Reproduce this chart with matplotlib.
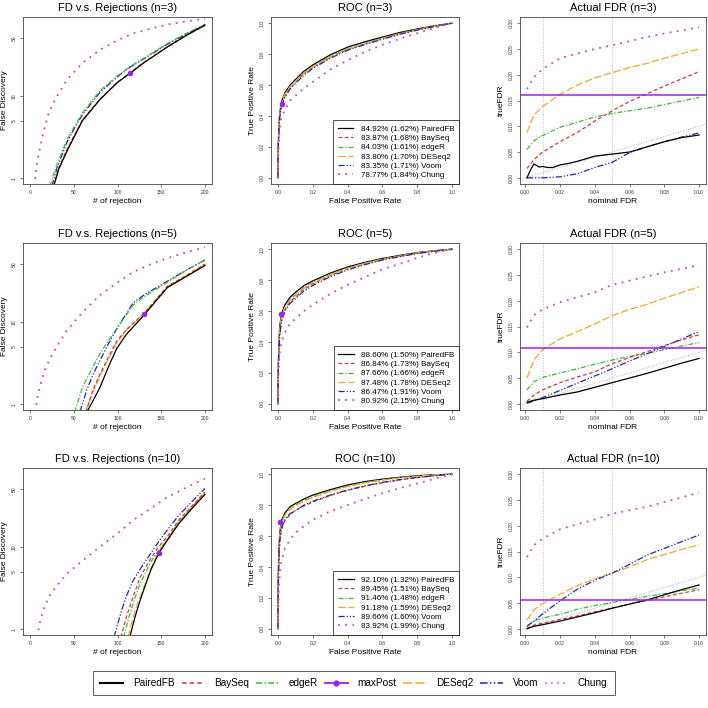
import numpy as np
import matplotlib
matplotlib.use("Agg")
import matplotlib.pyplot as plt
from matplotlib.lines import Line2D

plt.rcParams["font.family"] = ["Liberation Sans", "DejaVu Sans"]

methods = ["PairedFB", "BaySeq", "edgeR", "DESeq2", "Voom", "Chung"]
colors = {"PairedFB": "black", "BaySeq": "#D03A3A", "edgeR": "#3CB83C",
          "DESeq2": "#F0A830", "Voom": "#2626A6", "Chung": "#CC44CC",
          "maxPost": "#A020F0"}
styles = {"PairedFB": "-", "BaySeq": (0, (3, 2)), "edgeR": (0, (4, 1.5, 1, 1.5)),
          "DESeq2": (0, (6, 2)), "Voom": (0, (5, 1.5, 1, 1.5, 1, 1.5)),
          "Chung": (0, (1, 3))}
sizes = [3, 5, 10]

# ---- FD vs rejections: (x, y) per method ----
fd3 = {
    "PairedFB": ([27, 33, 42, 50, 60, 80, 100, 114, 130, 157, 180, 200],
                 [0.8, 1.3, 2.1, 3.1, 5.0, 9.0, 14.5, 18.6, 25, 39, 55, 72]),
    "BaySeq": ([27, 33, 42, 50, 60, 80, 100, 114, 130, 157, 180, 200],
               [0.8, 1.35, 2.2, 3.2, 5.1, 9.1, 14.6, 18.8, 25.5, 39, 55, 71]),
    "edgeR": ([23, 30, 42, 50, 60, 80, 100, 114, 130, 157, 180, 200],
              [0.8, 1.4, 2.9, 4.1, 6.2, 11.5, 17.5, 22.5, 28.5, 43, 58, 73]),
    "DESeq2": ([27, 33, 42, 50, 60, 80, 100, 114, 130, 157, 180, 200],
               [0.8, 1.3, 2.15, 3.15, 5.0, 9.0, 14.5, 18.7, 25.2, 39, 54.5, 71]),
    "Voom": ([25, 31, 42, 50, 60, 80, 100, 114, 130, 157, 180, 200],
             [0.8, 1.35, 2.7, 3.9, 5.9, 11, 17, 22, 28, 42, 57, 72]),
    "Chung": ([5, 8, 11, 15, 22, 30, 42, 60, 80, 100, 118, 140, 160, 180, 200],
              [0.8, 1.5, 2.2, 3.5, 6.5, 9.5, 15.5, 25, 36, 47, 57, 66, 74, 80, 86]),
}
fd5 = {
    "PairedFB": ([65, 72, 80, 90, 99, 110, 130, 157, 180, 200],
                 [0.8, 1.1, 1.6, 2.9, 4.7, 7, 11.9, 26, 36, 48]),
    "BaySeq": ([64, 72, 80, 90, 99, 110, 130, 157, 180, 200],
               [0.8, 1.5, 2.3, 3.8, 5.8, 8, 12.5, 27, 37, 50]),
    "edgeR": ([51, 60, 70, 80, 90, 100, 118, 130, 157, 180, 200],
              [0.8, 1.6, 2.6, 4.1, 6, 8.5, 16, 20, 30, 43, 56]),
    "DESeq2": ([63, 72, 80, 90, 99, 110, 130, 157, 180, 200],
               [0.8, 1.4, 2.2, 3.6, 5.5, 7.8, 12.5, 26, 37, 50]),
    "Voom": ([57, 65, 72, 80, 90, 100, 118, 130, 157, 180, 200],
             [0.8, 1.5, 2.3, 3.4, 5.5, 8.5, 17, 21, 31, 43, 56]),
    "Chung": ([6, 9, 13, 17, 22, 30, 42, 60, 80, 100, 118, 140, 157, 180, 200],
              [0.8, 1.3, 1.9, 2.6, 3.4, 4.9, 7.8, 13, 21, 30, 40, 51, 59, 70, 80]),
}
fd10 = {
    "PairedFB": ([114, 120, 125, 130, 138, 147, 157, 170, 185, 200],
                 [0.8, 1.4, 2.1, 3.0, 5.2, 8.3, 12, 19, 29, 43]),
    "BaySeq": ([104, 110, 118, 126, 138, 147, 157, 170, 185, 200],
               [0.8, 1.4, 2.5, 4.3, 7.2, 10, 13.3, 21, 31, 46]),
    "edgeR": ([107, 113, 120, 126, 138, 147, 157, 170, 185, 200],
              [0.8, 1.4, 2.4, 3.6, 6.5, 9, 12.2, 20, 30, 47]),
    "DESeq2": ([112, 118, 124, 130, 138, 147, 157, 170, 185, 200],
               [0.8, 1.4, 2.2, 3.2, 5.4, 8.6, 12.4, 19.5, 30, 45]),
    "Voom": ([96, 104, 110, 118, 128, 138, 147, 157, 170, 185, 200],
             [0.8, 1.6, 2.5, 3.9, 5.8, 8.3, 11.5, 16, 24, 35, 51]),
    "Chung": ([8, 12, 16, 22, 30, 42, 61, 80, 100, 118, 140, 157, 180, 200],
              [0.8, 1.3, 1.8, 2.5, 3.3, 4.7, 6.9, 10, 14.5, 21, 30, 40, 53, 67]),
}
fd_maxpost = [(114, 18.6), (130, 12.3), (147, 8.3)]

# ---- ROC curves ----
fpr = [0, 0.002, 0.005, 0.01, 0.02, 0.04, 0.07, 0.1, 0.15, 0.2, 0.3, 0.4, 0.5,
       0.6, 0.7, 0.8, 0.9, 1.0]
roc3 = {
    "PairedFB": [0, 0.22, 0.32, 0.42, 0.49, 0.55, 0.6, 0.635, 0.69, 0.73, 0.795, 0.845, 0.88, 0.91, 0.94, 0.963, 0.983, 1],
    "BaySeq": [0, 0.2, 0.3, 0.4, 0.47, 0.53, 0.585, 0.62, 0.675, 0.715, 0.78, 0.83, 0.868, 0.9, 0.932, 0.958, 0.98, 1],
    "edgeR": [0, 0.21, 0.31, 0.41, 0.48, 0.54, 0.59, 0.625, 0.68, 0.72, 0.785, 0.835, 0.87, 0.902, 0.934, 0.96, 0.981, 1],
    "DESeq2": [0, 0.2, 0.31, 0.41, 0.48, 0.54, 0.59, 0.625, 0.678, 0.718, 0.782, 0.832, 0.868, 0.9, 0.931, 0.957, 0.98, 1],
    "Voom": [0, 0.19, 0.29, 0.39, 0.46, 0.52, 0.575, 0.61, 0.665, 0.707, 0.773, 0.825, 0.862, 0.896, 0.928, 0.955, 0.979, 1],
    "Chung": [0, 0.15, 0.25, 0.32, 0.39, 0.44, 0.5, 0.53, 0.58, 0.62, 0.7, 0.76, 0.815, 0.86, 0.9, 0.935, 0.97, 1],
}
roc5 = {
    "PairedFB": [0, 0.25, 0.38, 0.5, 0.58, 0.64, 0.69, 0.72, 0.765, 0.795, 0.845, 0.885, 0.915, 0.94, 0.96, 0.978, 0.99, 1],
    "BaySeq": [0, 0.22, 0.34, 0.45, 0.54, 0.61, 0.66, 0.69, 0.74, 0.775, 0.83, 0.872, 0.905, 0.932, 0.954, 0.973, 0.988, 1],
    "edgeR": [0, 0.24, 0.36, 0.48, 0.56, 0.625, 0.675, 0.705, 0.752, 0.785, 0.838, 0.878, 0.91, 0.936, 0.957, 0.976, 0.989, 1],
    "DESeq2": [0, 0.24, 0.36, 0.48, 0.56, 0.625, 0.67, 0.7, 0.748, 0.782, 0.835, 0.876, 0.908, 0.935, 0.956, 0.975, 0.989, 1],
    "Voom": [0, 0.22, 0.33, 0.44, 0.53, 0.6, 0.65, 0.68, 0.73, 0.765, 0.822, 0.866, 0.9, 0.93, 0.952, 0.972, 0.987, 1],
    "Chung": [0, 0.15, 0.25, 0.33, 0.4, 0.46, 0.52, 0.55, 0.6, 0.64, 0.71, 0.77, 0.82, 0.87, 0.905, 0.945, 0.975, 1],
}
roc10 = {
    "PairedFB": [0, 0.35, 0.5, 0.62, 0.7, 0.75, 0.79, 0.81, 0.84, 0.865, 0.9, 0.93, 0.952, 0.968, 0.98, 0.99, 0.996, 1],
    "BaySeq": [0, 0.3, 0.45, 0.56, 0.64, 0.7, 0.74, 0.765, 0.795, 0.82, 0.862, 0.895, 0.922, 0.945, 0.963, 0.978, 0.99, 1],
    "edgeR": [0, 0.34, 0.49, 0.61, 0.69, 0.74, 0.78, 0.8, 0.83, 0.855, 0.892, 0.922, 0.946, 0.963, 0.977, 0.988, 0.995, 1],
    "DESeq2": [0, 0.33, 0.48, 0.6, 0.68, 0.735, 0.775, 0.795, 0.825, 0.85, 0.888, 0.92, 0.944, 0.962, 0.976, 0.987, 0.995, 1],
    "Voom": [0, 0.3, 0.45, 0.57, 0.65, 0.71, 0.745, 0.765, 0.8, 0.825, 0.865, 0.898, 0.925, 0.947, 0.965, 0.979, 0.99, 1],
    "Chung": [0, 0.15, 0.26, 0.35, 0.44, 0.52, 0.58, 0.62, 0.665, 0.705, 0.76, 0.8, 0.84, 0.877, 0.91, 0.94, 0.97, 1],
}
roc_maxpost = [(0.023, 0.477), (0.017, 0.579), (0.01, 0.694)]
auc_labels = [
    ["84.92% (1.62%)", "83.87% (1.68%)", "84.03% (1.61%)", "83.80% (1.70%)", "83.35% (1.71%)", "78.77% (1.84%)"],
    ["88.60% (1.50%)", "86.84% (1.73%)", "87.66% (1.66%)", "87.48% (1.78%)", "86.47% (1.91%)", "80.92% (2.15%)"],
    ["92.10% (1.32%)", "89.45% (1.51%)", "91.46% (1.48%)", "91.18% (1.59%)", "89.66% (1.60%)", "83.92% (1.99%)"],
]

# ---- actual vs nominal FDR ----
nominal = [0.001, 0.005, 0.01, 0.02, 0.03, 0.04, 0.05, 0.06, 0.07, 0.08, 0.09, 0.1]
nominal_fine = [0.001, 0.003, 0.005, 0.008, 0.01, 0.013, 0.016, 0.02, 0.025, 0.03,
                0.035, 0.04, 0.05, 0.06, 0.07, 0.08, 0.09, 0.1]
fdr3 = {
    "PairedFB": [0.0, 0.015, 0.027, 0.021, 0.022, 0.02, 0.02, 0.025, 0.028, 0.032,
                 0.037, 0.042, 0.046, 0.05, 0.06, 0.07, 0.078, 0.083],
    "BaySeq": [0.018, 0.035, 0.05, 0.07, 0.088, 0.11, 0.13, 0.148, 0.163, 0.178, 0.192, 0.206],
    "edgeR": [0.055, 0.072, 0.082, 0.098, 0.108, 0.118, 0.125, 0.13, 0.135, 0.142, 0.149, 0.156],
    "DESeq2": [0.088, 0.122, 0.138, 0.162, 0.18, 0.194, 0.204, 0.214, 0.222, 0.232, 0.241, 0.25],
    "Voom": [0.0, 0.0, 0.0, 0.002, 0.008, 0.02, 0.03, 0.049, 0.06, 0.07, 0.079, 0.087],
    "Chung": [0.172, 0.195, 0.211, 0.232, 0.241, 0.25, 0.257, 0.265, 0.273, 0.28, 0.286, 0.292],
}
fdr5 = {
    "PairedFB": [0.003, 0.007, 0.01, 0.017, 0.023, 0.032, 0.041, 0.05, 0.059, 0.069, 0.079, 0.088],
    "BaySeq": [0.005, 0.017, 0.027, 0.041, 0.052, 0.062, 0.078, 0.09, 0.101, 0.113, 0.124, 0.134],
    "edgeR": [0.027, 0.043, 0.051, 0.06, 0.068, 0.077, 0.085, 0.092, 0.098, 0.105, 0.112, 0.119],
    "DESeq2": [0.05, 0.085, 0.105, 0.126, 0.14, 0.155, 0.171, 0.183, 0.193, 0.205, 0.216, 0.227],
    "Voom": [0.001, 0.006, 0.012, 0.026, 0.04, 0.054, 0.068, 0.083, 0.097, 0.111, 0.126, 0.14],
    "Chung": [0.148, 0.172, 0.183, 0.197, 0.207, 0.216, 0.231, 0.239, 0.247, 0.255, 0.262, 0.269],
}
fdr10 = {
    "PairedFB": [0.0, 0.005, 0.008, 0.015, 0.023, 0.031, 0.04, 0.048, 0.056, 0.066, 0.076, 0.085],
    "BaySeq": [0.001, 0.007, 0.011, 0.018, 0.025, 0.033, 0.04, 0.048, 0.055, 0.062, 0.069, 0.076],
    "edgeR": [0.005, 0.015, 0.021, 0.028, 0.038, 0.045, 0.051, 0.057, 0.063, 0.068, 0.074, 0.079],
    "DESeq2": [0.017, 0.037, 0.049, 0.067, 0.084, 0.097, 0.108, 0.12, 0.134, 0.144, 0.154, 0.163],
    "Voom": [0.005, 0.015, 0.029, 0.054, 0.077, 0.094, 0.108, 0.125, 0.143, 0.156, 0.169, 0.182],
    "Chung": [0.139, 0.162, 0.175, 0.193, 0.203, 0.212, 0.223, 0.23, 0.237, 0.246, 0.255, 0.264],
}
fdr_maxpost = [0.16, 0.108, 0.0556]

W = H = 708.0
col_x = [(23, 212), (271, 459), (520, 706)]
row_y = [(17, 184), (243, 410), (468, 635)]


def frac(col, row):
    x0, x1 = col_x[col]
    y0, y1 = row_y[row]
    return [x0 / W, 1 - y1 / H, (x1 - x0) / W, (y1 - y0) / H]


def style_axes(ax):
    for s in ax.spines.values():
        s.set_color("#444444")
        s.set_linewidth(0.6)
    ax.tick_params(length=2.5, width=0.5, color="#444444", labelsize=3.6,
                   pad=2, labelcolor="#333333")
    for lab in ax.get_yticklabels():
        lab.set_rotation(90)
        lab.set_va("center")


fig = plt.figure(figsize=(7.08, 7.08), dpi=100)
lw = 0.9
title_fs = 8
label_fs = 6

for r, n in enumerate(sizes):
    # FD vs rejections
    ax = fig.add_axes(frac(0, r))
    fd = [fd3, fd5, fd10][r]
    for m in ["Chung", "Voom", "edgeR", "DESeq2", "BaySeq", "PairedFB"]:
        xs, ys = fd[m]
        ax.plot(xs, ys, color=colors[m], linestyle=styles[m],
                lw=1.3 if m == "Chung" else lw)
    ax.plot(*fd_maxpost[r], "o", color=colors["maxPost"], ms=3)
    ax.set_yscale("log")
    ax.set_xlim(-8, 208)
    ax.set_ylim(0.85, 90)
    ax.set_xticks([0, 50, 100, 150, 200])
    ax.set_yticks([1, 5, 10, 50])
    ax.set_yticklabels(["1", "5", "10", "50"])
    ax.minorticks_off()
    ax.set_title(f"FD v.s. Rejections (n={n})", fontsize=title_fs, pad=4)
    ax.set_xlabel("# of rejection", fontsize=label_fs, labelpad=2)
    ax.set_ylabel("False Discovery", fontsize=label_fs, labelpad=3)
    style_axes(ax)

    # ROC
    ax = fig.add_axes(frac(1, r))
    roc = [roc3, roc5, roc10][r]
    handles = []
    for i, m in enumerate(methods):
        h, = ax.plot(fpr, roc[m], color=colors[m], linestyle=styles[m],
                     lw=1.3 if m == "Chung" else lw,
                     label=f"{auc_labels[r][i]} {m}")
        handles.append(h)
    ax.plot(*roc_maxpost[r], "o", color=colors["maxPost"], ms=3)
    ax.set_xlim(-0.04, 1.04)
    ax.set_ylim(-0.04, 1.04)
    ax.set_xticks(np.arange(0, 1.01, 0.2))
    ax.set_yticks(np.arange(0, 1.01, 0.2))
    ax.set_xticklabels([f"{v:.1f}" for v in np.arange(0, 1.01, 0.2)])
    ax.set_yticklabels([f"{v:.1f}" for v in np.arange(0, 1.01, 0.2)])
    ax.set_title(f"ROC (n={n})", fontsize=title_fs, pad=4)
    ax.set_xlabel("False Positive Rate", fontsize=label_fs, labelpad=2)
    ax.set_ylabel("True Positive Rate", fontsize=label_fs, labelpad=3)
    leg = ax.legend(handles=handles, loc="lower right", fontsize=5.8,
                    frameon=True, fancybox=False, borderaxespad=0,
                    handlelength=1.9, labelspacing=0.2, borderpad=0.6,
                    handletextpad=0.9)
    leg.get_frame().set_edgecolor("black")
    leg.get_frame().set_linewidth(0.6)
    style_axes(ax)

    # Actual FDR
    ax = fig.add_axes(frac(2, r))
    fdr = [fdr3, fdr5, fdr10][r]
    for xv in (0.01, 0.05):
        ax.axvline(xv, color="#BBBBBB", linestyle=":", lw=0.7)
    ax.axline((0, 0), slope=1, color="#AAAAAA", linestyle=":", lw=0.7)
    for m in ["Chung", "DESeq2", "edgeR", "BaySeq", "Voom", "PairedFB"]:
        xs = nominal_fine if len(fdr[m]) == len(nominal_fine) else nominal
        ax.plot(xs, fdr[m], color=colors[m], linestyle=styles[m],
                lw=1.3 if m == "Chung" else lw)
    ax.axhline(fdr_maxpost[r], color=colors["maxPost"], lw=1.1)
    ax.set_xlim(-0.003, 0.104)
    ax.set_ylim(-0.012, 0.312)
    ax.set_xticks(np.arange(0, 0.101, 0.02))
    ax.set_yticks(np.arange(0, 0.301, 0.05))
    ax.set_xticklabels([f"{v:.2f}" for v in np.arange(0, 0.101, 0.02)])
    ax.set_yticklabels([f"{v:.2f}" for v in np.arange(0, 0.301, 0.05)])
    ax.set_title(f"Actual FDR (n={n})", fontsize=title_fs, pad=4)
    ax.set_xlabel("nominal FDR", fontsize=label_fs, labelpad=2)
    ax.set_ylabel("trueFDR", fontsize=label_fs, labelpad=3)
    style_axes(ax)

# shared legend at the bottom
leg_order = ["PairedFB", "BaySeq", "edgeR", "maxPost", "DESeq2", "Voom", "Chung"]
leg_handles = []
for m in leg_order:
    if m == "maxPost":
        leg_handles.append(Line2D([], [], color=colors[m], lw=1.3, marker="o", ms=3.5))
    else:
        leg_handles.append(Line2D([], [], color=colors[m], linestyle=styles[m],
                                  lw=1.5 if m == "PairedFB" else 1.1))
bl = fig.legend(handles=leg_handles, labels=leg_order, loc="center",
                bbox_to_anchor=(354 / W, 1 - 683 / H), ncol=7, fontsize=7.2,
                frameon=True, fancybox=False, handlelength=2.3,
                columnspacing=0.65, handletextpad=1.0, borderpad=0.7)
bl.get_frame().set_edgecolor("#333333")
bl.get_frame().set_linewidth(0.7)

fig.savefig("out.png", dpi=100)
